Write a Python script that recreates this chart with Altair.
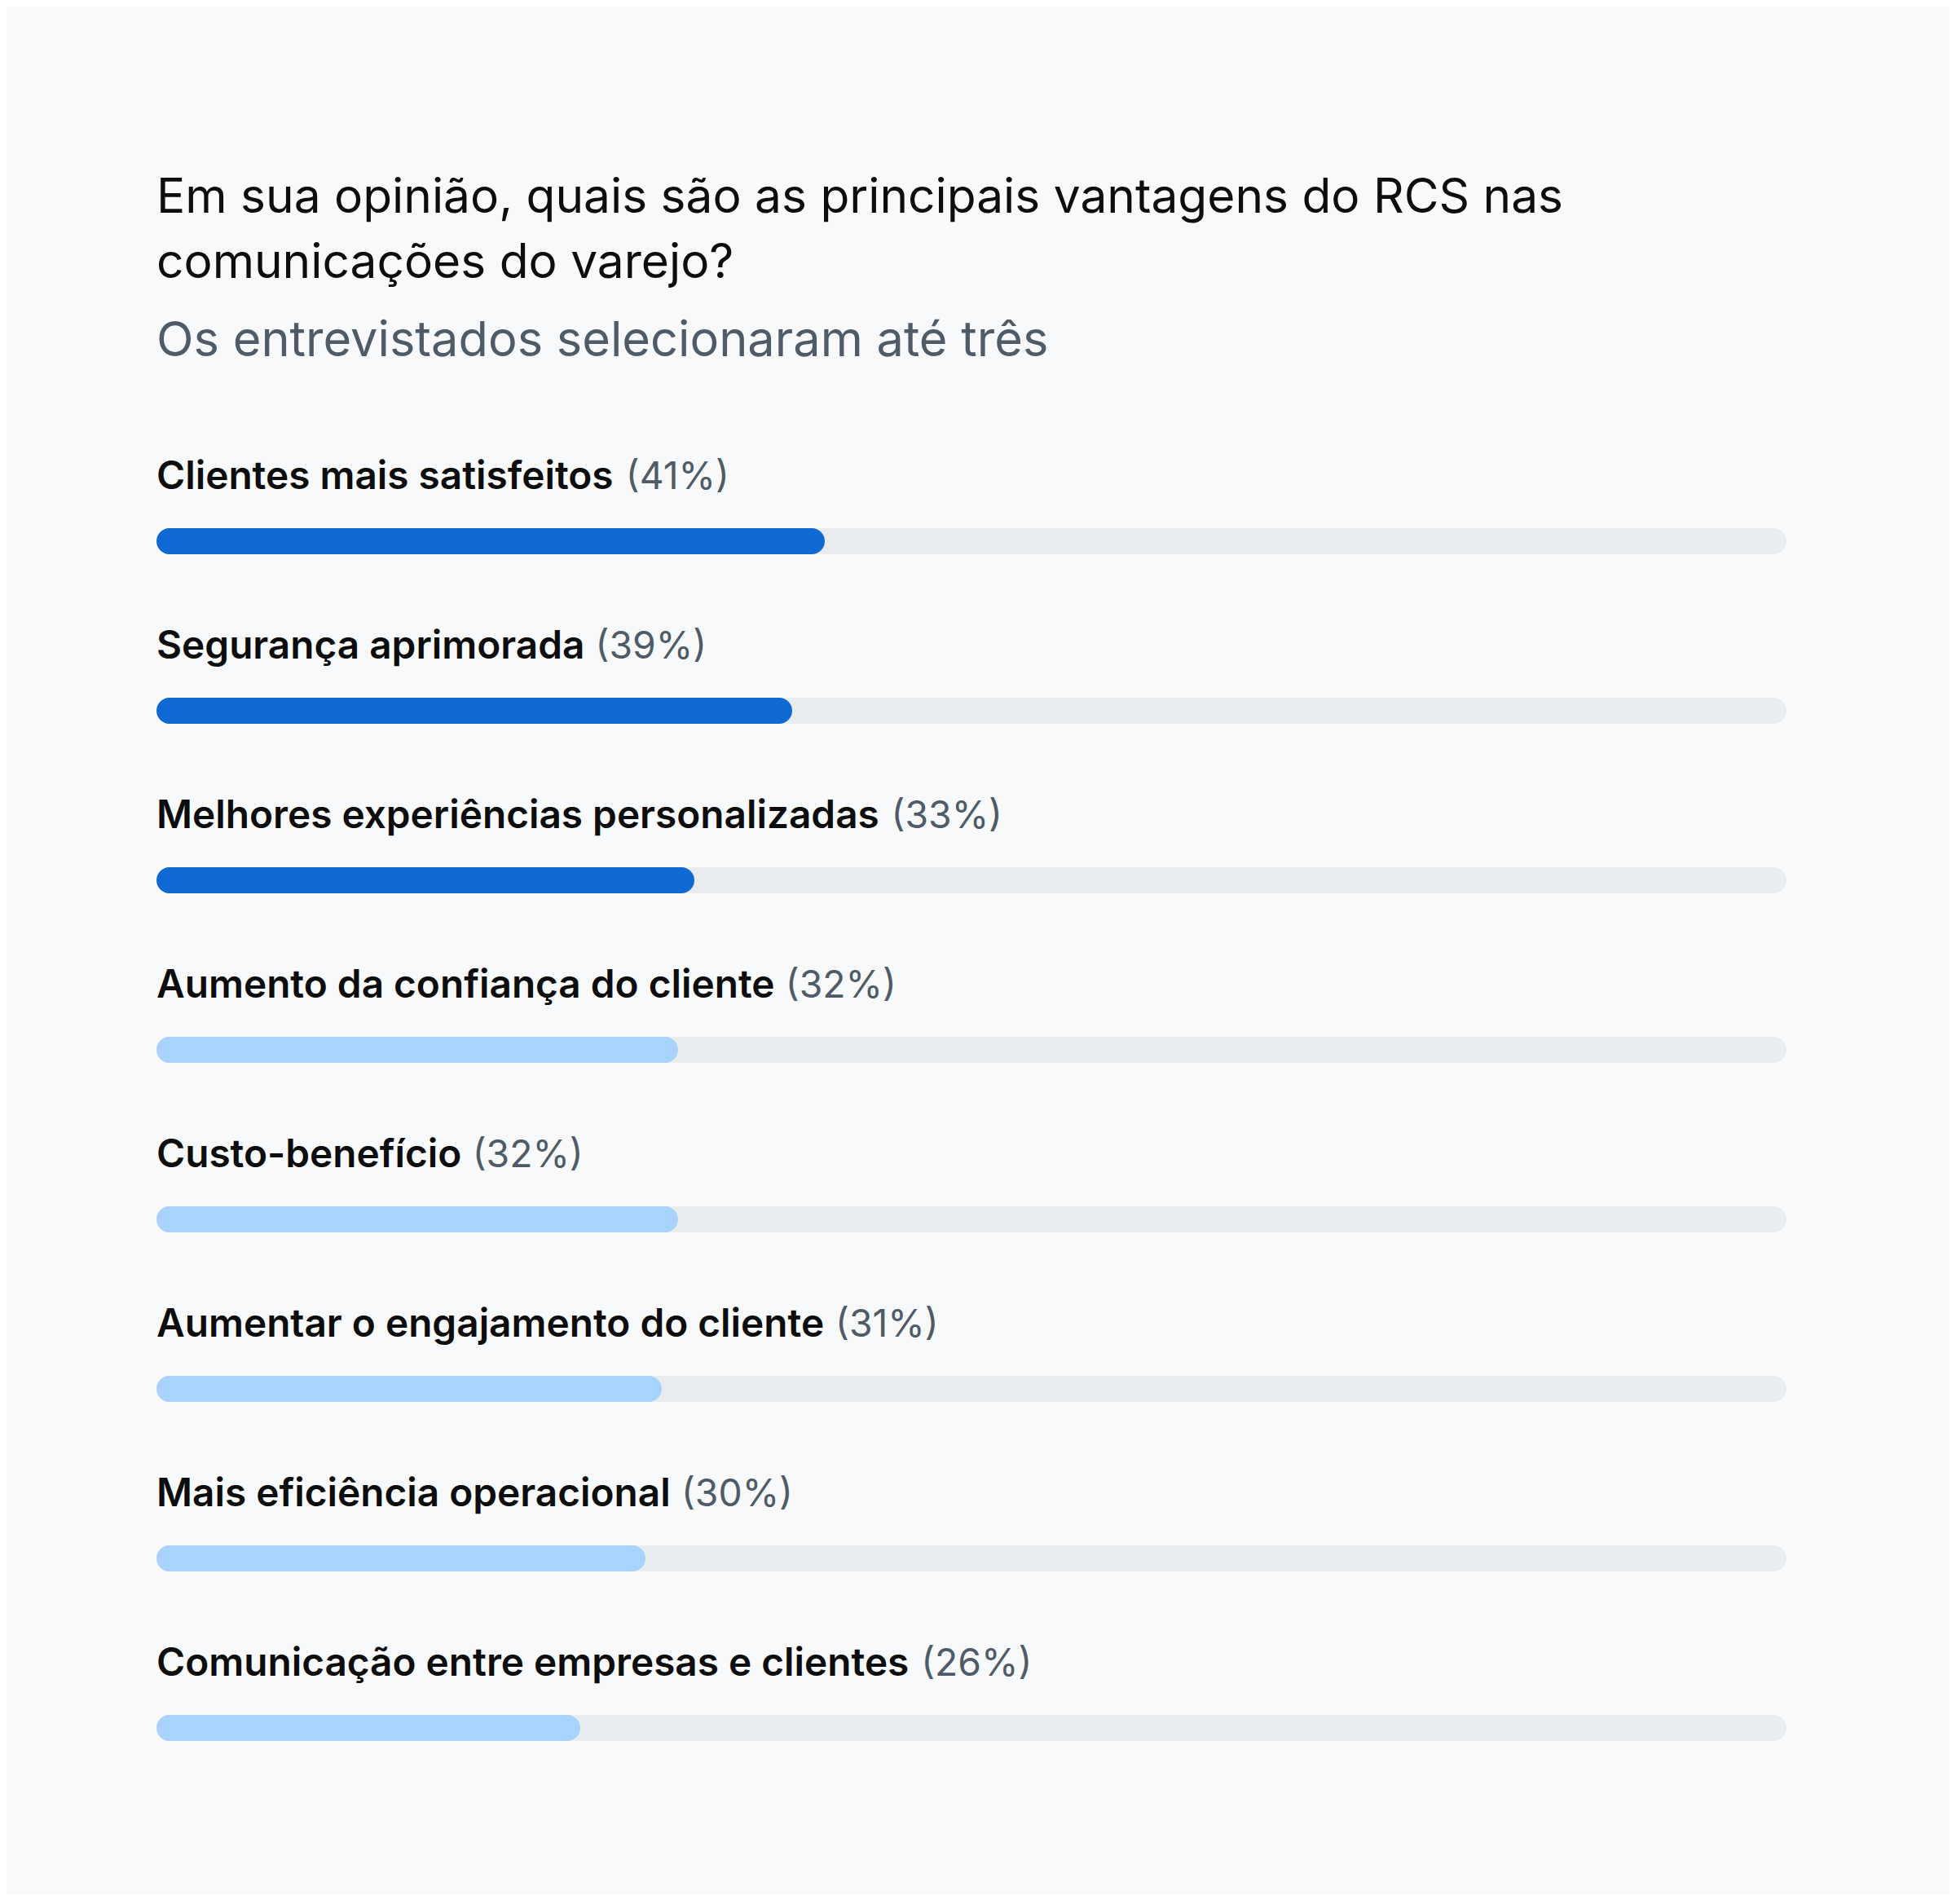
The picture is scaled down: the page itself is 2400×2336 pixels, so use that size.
import os
import struct
import subprocess

import altair as alt
import pandas as pd

# ---------------- data ----------------
labels = [
    "Clientes mais satisfeitos",
    "Segurança aprimorada",
    "Melhores experiências personalizadas",
    "Aumento da confiança do cliente",
    "Custo-benefício",
    "Aumentar o engajamento do cliente",
    "Mais eficiência operacional",
    "Comunicação entre empresas e clientes",
]
values = [41, 39, 33, 32, 32, 31, 30, 26]
highlight = [True, True, True, False, False, False, False, False]

title_lines = [
    "Em sua opinião, quais são as principais vantagens do RCS nas",
    "comunicações do varejo?",
]
subtitle = "Os entrevistados selecionaram até três"

# ---------------- style ----------------
FONT = "Inter"
BG = "#f7f9fb"
TRACK = "#e9edf0"
DARK = "#0f69d2"
LIGHT = "#a8d3fd"
TEXT = "#0d0d0d"
GREY = "#4f5b66"
PLOT_W = 2000
ROW = 208


# ---------------- font metrics (for placing the grey percentage) ----------------
def font_file(family, style):
    try:
        r = subprocess.run(["fc-match", "-f", "%{file}", f"{family}:{style}"],
                           capture_output=True, text=True, timeout=10)
        p = r.stdout.strip()
        if p and os.path.exists(p):
            return p
    except Exception:
        pass
    return None


def read_font(path):
    with open(path, "rb") as f:
        data = f.read()
    base = 0
    if data[:4] == b"ttcf":
        base = struct.unpack(">I", data[12:16])[0]
    num = struct.unpack(">H", data[base + 4:base + 6])[0]
    tables = {}
    for i in range(num):
        p = base + 12 + 16 * i
        tag = data[p:p + 4].decode("latin1")
        off = struct.unpack(">I", data[p + 8:p + 12])[0]
        tables[tag] = off
    upem = struct.unpack(">H", data[tables["head"] + 18:tables["head"] + 20])[0]
    nhm = struct.unpack(">H", data[tables["hhea"] + 34:tables["hhea"] + 36])[0]
    hm = tables["hmtx"]
    adv = [struct.unpack(">H", data[hm + 4 * i:hm + 4 * i + 2])[0] for i in range(nhm)]
    cm = tables["cmap"]
    n = struct.unpack(">H", data[cm + 2:cm + 4])[0]
    best = None
    for i in range(n):
        pid, eid, so = struct.unpack(">HHI", data[cm + 4 + 8 * i:cm + 12 + 8 * i])
        st = cm + so
        fmt = struct.unpack(">H", data[st:st + 2])[0]
        if fmt == 4:
            best = st
            break
    cmap = {}
    if best is not None:
        st = best
        segx2 = struct.unpack(">H", data[st + 6:st + 8])[0]
        seg = segx2 // 2
        ends = struct.unpack(">%dH" % seg, data[st + 14:st + 14 + segx2])
        starts = struct.unpack(">%dH" % seg, data[st + 16 + segx2:st + 16 + 2 * segx2])
        deltas = struct.unpack(">%dh" % seg, data[st + 16 + 2 * segx2:st + 16 + 3 * segx2])
        rpos = st + 16 + 3 * segx2
        roffs = struct.unpack(">%dH" % seg, data[rpos:rpos + segx2])
        for s in range(seg):
            lo, hi = starts[s], min(ends[s], 0x2FF)
            for c in range(lo, hi + 1):
                if roffs[s] == 0:
                    g = (c + deltas[s]) & 0xFFFF
                else:
                    a = rpos + 2 * s + roffs[s] + 2 * (c - lo)
                    g = struct.unpack(">H", data[a:a + 2])[0]
                    if g:
                        g = (g + deltas[s]) & 0xFFFF
                cmap[c] = g
    widths = {c: adv[min(g, nhm - 1)] / upem for c, g in cmap.items()}
    return widths, ("fvar" in tables)


def metrics(family, style):
    p = font_file(family, style)
    if p:
        try:
            w, var = read_font(p)
            return w, var
        except Exception:
            pass
    return {}, False


REG, REG_VAR = metrics(FONT, "regular")
SEMI, SEMI_VAR = metrics(FONT, "semibold")


def text_w(s, table, fudge=1.0):
    return sum(table.get(ord(ch), 0.55) for ch in s) * fudge


semi_fudge = 1.035 if SEMI_VAR else 1.0

# font sizes chosen so the text spans match the reference
LABEL_SIZE = (561 / text_w(labels[0], SEMI, semi_fudge) + 928 / text_w(labels[7], SEMI, semi_fudge)) / 2
TITLE_SIZE = 1725 / text_w(title_lines[0], REG)
SUB_SIZE = 1098 / text_w(subtitle, REG)
PCT_SIZE = LABEL_SIZE * 0.97

# ---------------- table ----------------
df = pd.DataFrame({
    "label": labels,
    "value": values,
    "group": ["top" if h else "rest" for h in highlight],
})
df["lo"] = 0
df["hi"] = 100
df["pct"] = ["(%d%%)" % v for v in values]
df["pct_x"] = [
    (text_w(l, SEMI, semi_fudge) * LABEL_SIZE + text_w(" ", REG) * PCT_SIZE) / PLOT_W * 100
    for l in labels
]

x_scale = alt.Scale(domain=[0, 100], nice=False, zero=False)
y_enc = alt.Y("label:N", sort=labels, axis=None,
              scale=alt.Scale(paddingInner=0, paddingOuter=0))

base = alt.Chart(df).encode(y=y_enc)

track = base.mark_bar(size=32, cornerRadius=16, color=TRACK, yOffset=20).encode(
    x=alt.X("lo:Q", scale=x_scale, axis=None), x2="hi:Q"
)
bar = base.mark_bar(size=32, cornerRadius=16, yOffset=20).encode(
    x=alt.X("lo:Q", scale=x_scale, axis=None),
    x2="value:Q",
    color=alt.Color("group:N", scale=alt.Scale(domain=["top", "rest"], range=[DARK, LIGHT]),
                    legend=None),
)
lab = base.mark_text(align="left", baseline="alphabetic", dy=-44, font=FONT,
                     fontSize=LABEL_SIZE, fontWeight=600, color=TEXT).encode(
    x=alt.X("lo:Q", scale=x_scale, axis=None), text="label:N"
)
pct = base.mark_text(align="left", baseline="alphabetic", dy=-44, font=FONT,
                     fontSize=PCT_SIZE, fontWeight=400, color=GREY).encode(
    x=alt.X("pct_x:Q", scale=x_scale, axis=None), text="pct:N"
)

chart = alt.layer(track, bar, lab, pct).properties(
    width=PLOT_W,
    height=ROW * len(labels),
    background=BG,
    autosize=alt.AutoSizeParams(type="none"),
    padding={"left": 184, "top": 532, "right": 200, "bottom": 120},
    title=alt.TitleParams(
        text=title_lines,
        subtitle=subtitle,
        anchor="start",
        frame="group",
        font=FONT,
        fontSize=TITLE_SIZE,
        fontWeight=400,
        color=TEXT,
        lineHeight=80,
        subtitleFont=FONT,
        subtitleFontSize=SUB_SIZE,
        subtitleFontWeight=400,
        subtitleColor=GREY,
        subtitlePadding=37,
        offset=90,
    ),
).configure_view(stroke=None)

chart.save("out.html", embed_options={"renderer": "svg", "actions": False})
